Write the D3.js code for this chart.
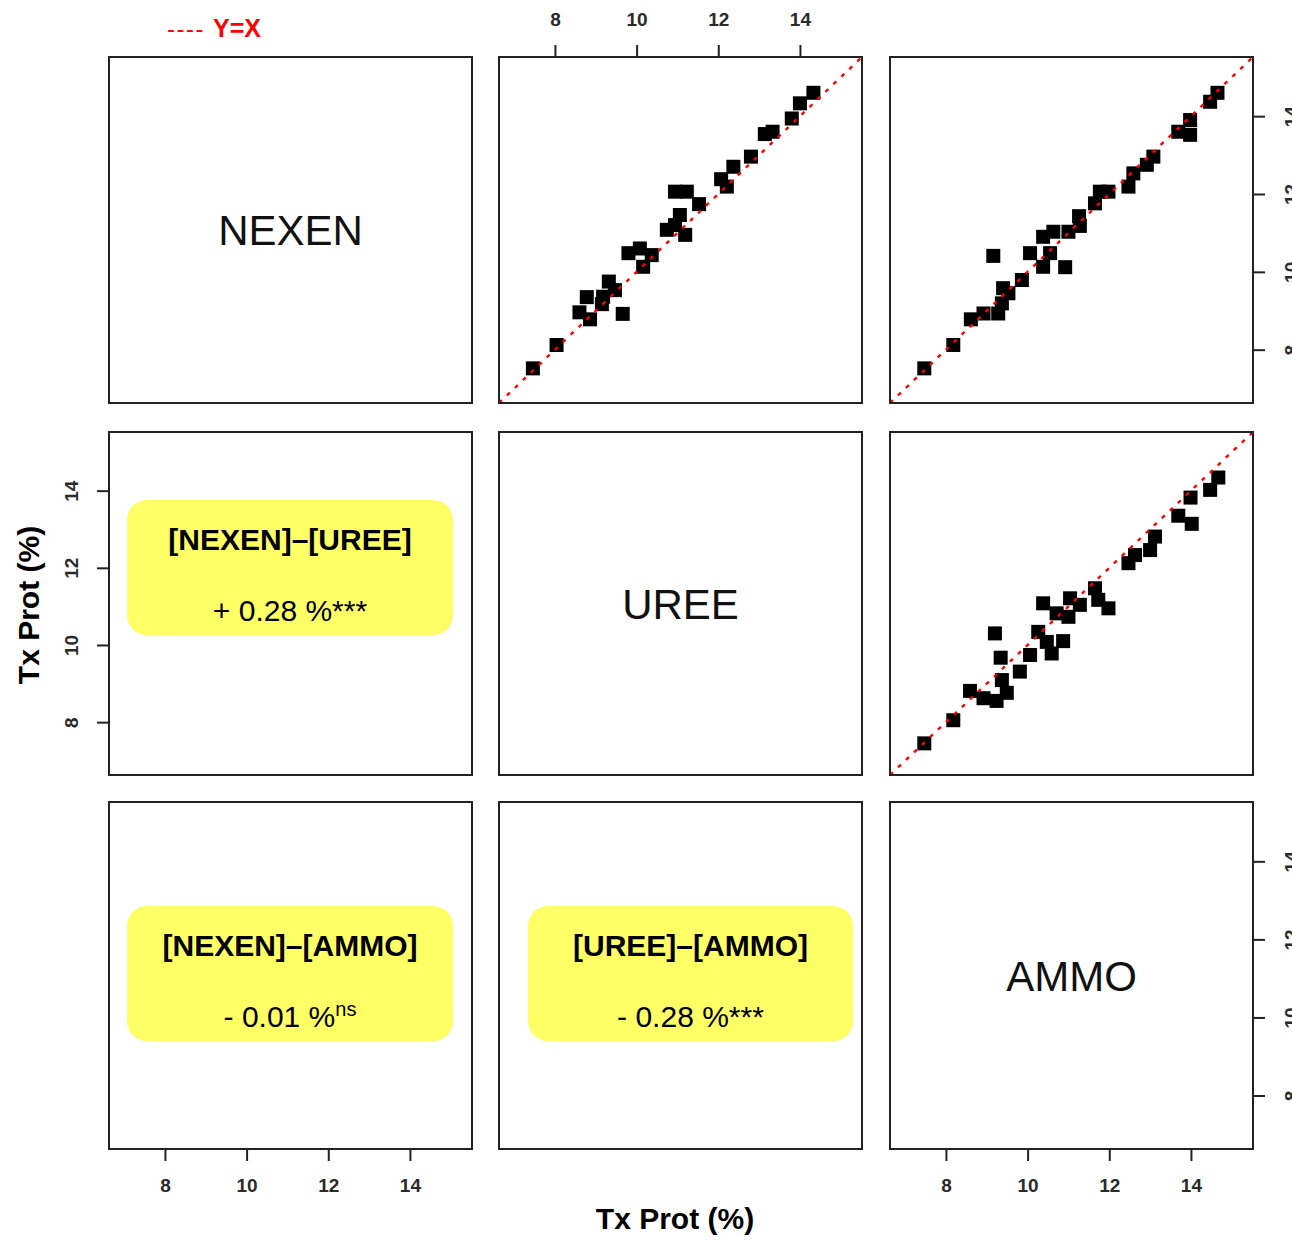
<!DOCTYPE html>
<html>
<head>
<meta charset="utf-8">
<script src="https://cdn.jsdelivr.net/npm/d3@7"></script>
<style>
  body { margin: 0; background: #fff; }
  svg text { font-family: "Liberation Sans", Arial, sans-serif; }
</style>
</head>
<body>
<svg id="chart" width="1292" height="1240"></svg>
<script>
// variables on the diagonal
var variables = ['NEXEN', 'UREE', 'AMMO'];
var tickValues = [8, 10, 12, 14];
var axisDomain = [6.63, 15.52];

// upper panels, [x, y] pairs
// row 1 col 2 : x = UREE, y = NEXEN
var ureeNexen = [
  [7.46, 7.52], [8.04, 8.12], [8.60, 8.96], [8.86, 8.78], [8.78, 9.35],
  [9.15, 9.17], [9.18, 9.36], [9.32, 9.75], [9.47, 9.53], [9.66, 8.92],
  [9.80, 10.48], [10.08, 10.60], [10.16, 10.13], [10.37, 10.43], [10.74, 11.08],
  [11.06, 11.46], [10.94, 11.20], [11.19, 10.95], [10.94, 12.06], [11.23, 12.06],
  [11.53, 11.74], [12.07, 12.38], [12.21, 12.19], [12.37, 12.70], [12.80, 12.96],
  [13.14, 13.54], [13.33, 13.60], [13.80, 13.94], [14.00, 14.33], [14.33, 14.60]
];
// row 1 col 3 : x = AMMO, y = NEXEN
var ammoNexen = [
  [7.47, 7.52], [8.18, 8.12], [8.61, 8.78], [8.92, 8.93], [9.16, 10.41],
  [9.28, 8.93], [9.37, 9.19], [9.40, 9.58], [9.53, 9.45], [9.86, 9.79],
  [10.06, 10.48], [10.38, 10.90], [10.38, 10.13], [10.55, 10.48], [10.63, 11.03],
  [10.92, 10.12], [11.00, 11.03], [11.26, 11.43], [11.28, 11.18], [11.65, 11.76],
  [11.77, 12.06], [11.98, 12.06], [12.47, 12.19], [12.59, 12.53], [12.92, 12.75],
  [13.08, 12.96], [13.69, 13.60], [13.98, 13.52], [13.98, 13.90], [14.47, 14.37],
  [14.65, 14.60]
];
// row 2 col 3 : x = AMMO, y = UREE
var ammoUree = [
  [7.47, 7.45], [8.18, 8.05], [8.59, 8.81], [8.92, 8.62], [9.24, 8.55],
  [9.49, 8.76], [9.37, 9.09], [9.34, 9.67], [9.20, 10.30], [9.81, 9.31],
  [10.06, 9.74], [10.26, 10.34], [10.38, 11.08], [10.59, 9.78], [10.47, 10.08],
  [10.87, 10.10], [10.71, 10.82], [11.00, 10.73], [11.04, 11.21], [11.28, 11.04],
  [11.65, 11.47], [11.73, 11.17], [11.98, 10.95], [12.47, 12.12], [12.63, 12.33],
  [13.00, 12.46], [13.12, 12.81], [13.69, 13.35], [14.02, 13.14], [13.99, 13.82],
  [14.47, 14.02], [14.67, 14.34]
];

// lower panels: paired differences
var contrastNames = ['[NEXEN]\u2013[UREE]', '[NEXEN]\u2013[AMMO]', '[UREE]\u2013[AMMO]'];
var contrastValues = ['+ 0.28 %', '- 0.01 %', '- 0.28 %'];
var contrastSig = ['***', 'ns', '***'];

// layout
var colLeft = [109, 499, 890];
var rowTop = [57, 432, 802];
var panelW = 363;
var rowH = [346, 343, 347];
var boxes = [
  { x: 127, y: 500, w: 326, h: 135 },
  { x: 127, y: 906, w: 326, h: 135 },
  { x: 528, y: 906, w: 325, h: 135 }
];

var svg = d3.select('#chart');

var xScales = colLeft.map(function(l) {
  return d3.scaleLinear().domain(axisDomain).range([l, l + panelW]);
});
var yScales = rowTop.map(function(t, i) {
  return d3.scaleLinear().domain(axisDomain).range([t + rowH[i], t]);
});

var panels = [
  { row: 0, col: 1, data: ureeNexen },
  { row: 0, col: 2, data: ammoNexen },
  { row: 1, col: 2, data: ammoUree }
];

var sq = 14;
panels.forEach(function(p) {
  var sx = xScales[p.col], sy = yScales[p.row];
  var g = svg.append('g');
  g.selectAll('rect.pt').data(p.data).enter().append('rect')
    .attr('class', 'pt')
    .attr('x', function(d) { return sx(d[0]) - sq / 2; })
    .attr('y', function(d) { return sy(d[1]) - sq / 2; })
    .attr('width', sq).attr('height', sq)
    .attr('fill', '#000');
  // y = x reference line
  g.append('line')
    .attr('x1', sx(axisDomain[0])).attr('y1', sy(axisDomain[0]))
    .attr('x2', sx(axisDomain[1])).attr('y2', sy(axisDomain[1]))
    .attr('stroke', '#ff0000').attr('stroke-width', 2.4)
    .attr('stroke-dasharray', '4,7');
});

// diagonal labels
variables.forEach(function(v, i) {
  svg.append('text')
    .attr('x', colLeft[i] + panelW / 2)
    .attr('y', rowTop[i] + rowH[i] / 2 + 15)
    .attr('text-anchor', 'middle')
    .attr('font-size', 42)
    .attr('fill', '#111')
    .text(v);
});

// contrast boxes
boxes.forEach(function(b, i) {
  var cx = b.x + b.w / 2;
  svg.append('rect')
    .attr('x', b.x).attr('y', b.y).attr('width', b.w).attr('height', b.h)
    .attr('rx', 20).attr('ry', 20)
    .attr('fill', '#ffff66');
  svg.append('text')
    .attr('x', cx).attr('y', b.y + 50)
    .attr('text-anchor', 'middle')
    .attr('font-size', 30).attr('font-weight', 'bold')
    .attr('fill', '#000')
    .text(contrastNames[i]);
  var t = svg.append('text')
    .attr('x', cx).attr('y', b.y + 121)
    .attr('text-anchor', 'middle')
    .attr('font-size', 30)
    .attr('fill', '#000');
  t.append('tspan').text(contrastValues[i]);
  if (contrastSig[i] === 'ns') {
    t.append('tspan').attr('font-size', 20).attr('dy', -11).text(contrastSig[i]);
  } else {
    t.append('tspan').text(contrastSig[i]);
  }
});

// panel borders
colLeft.forEach(function(l) {
  rowTop.forEach(function(t, r) {
    svg.append('rect')
      .attr('x', l).attr('y', t).attr('width', panelW).attr('height', rowH[r])
      .attr('fill', 'none').attr('stroke', '#222').attr('stroke-width', 2);
  });
});

// axes
var styleAxis = function(g) {
  g.select('.domain').remove();
  g.selectAll('.tick line').attr('stroke', '#222').attr('stroke-width', 2);
  g.selectAll('.tick text')
    .attr('font-family', '"Liberation Sans", Arial, sans-serif')
    .attr('font-size', 19).attr('font-weight', 'bold').attr('fill', '#2a2a2a');
};

var addX = function(col, side) {
  var y = side === 'top' ? rowTop[0] : rowTop[2] + rowH[2];
  var axis = (side === 'top' ? d3.axisTop(xScales[col]) : d3.axisBottom(xScales[col]))
    .tickValues(tickValues).tickSize(12).tickPadding(side === 'top' ? 19 : 18);
  svg.append('g').attr('transform', 'translate(0,' + y + ')').call(axis).call(styleAxis);
};

var addY = function(row, side) {
  var x = side === 'left' ? colLeft[0] : colLeft[2] + panelW;
  var axis = (side === 'left' ? d3.axisLeft(yScales[row]) : d3.axisRight(yScales[row]))
    .tickValues(tickValues).tickSize(12);
  var g = svg.append('g').attr('transform', 'translate(' + x + ',0)').call(axis).call(styleAxis);
  var off = side === 'left' ? -38 : 38;
  g.selectAll('.tick text')
    .attr('x', null).attr('dy', null)
    .attr('transform', 'translate(' + off + ',0) rotate(-90)')
    .attr('text-anchor', 'middle')
    .attr('dominant-baseline', 'central');
};

addX(1, 'top');
addX(0, 'bottom');
addX(2, 'bottom');
addY(1, 'left');
addY(0, 'right');
addY(2, 'right');

// axis titles
svg.append('text')
  .attr('x', 675).attr('y', 1229)
  .attr('text-anchor', 'middle')
  .attr('font-family', 'Lato, "Open Sans", sans-serif')
  .attr('font-size', 30).attr('font-weight', 'bold')
  .attr('fill', '#000')
  .text('Tx Prot (%)');
svg.append('text')
  .attr('transform', 'translate(39,605) rotate(-90)')
  .attr('text-anchor', 'middle')
  .attr('font-family', 'Lato, "Open Sans", sans-serif')
  .attr('font-size', 30).attr('font-weight', 'bold')
  .attr('fill', '#000')
  .text('Tx Prot (%)');

// legend for the reference line
svg.append('text')
  .attr('x', 167).attr('y', 37)
  .attr('font-size', 24).attr('letter-spacing', 1.5)
  .attr('fill', '#ff0000')
  .text('----');
svg.append('text')
  .attr('x', 213).attr('y', 37)
  .attr('font-size', 25).attr('font-weight', 'bold')
  .attr('fill', '#ff0000')
  .text('Y=X');
</script>
</body>
</html>
